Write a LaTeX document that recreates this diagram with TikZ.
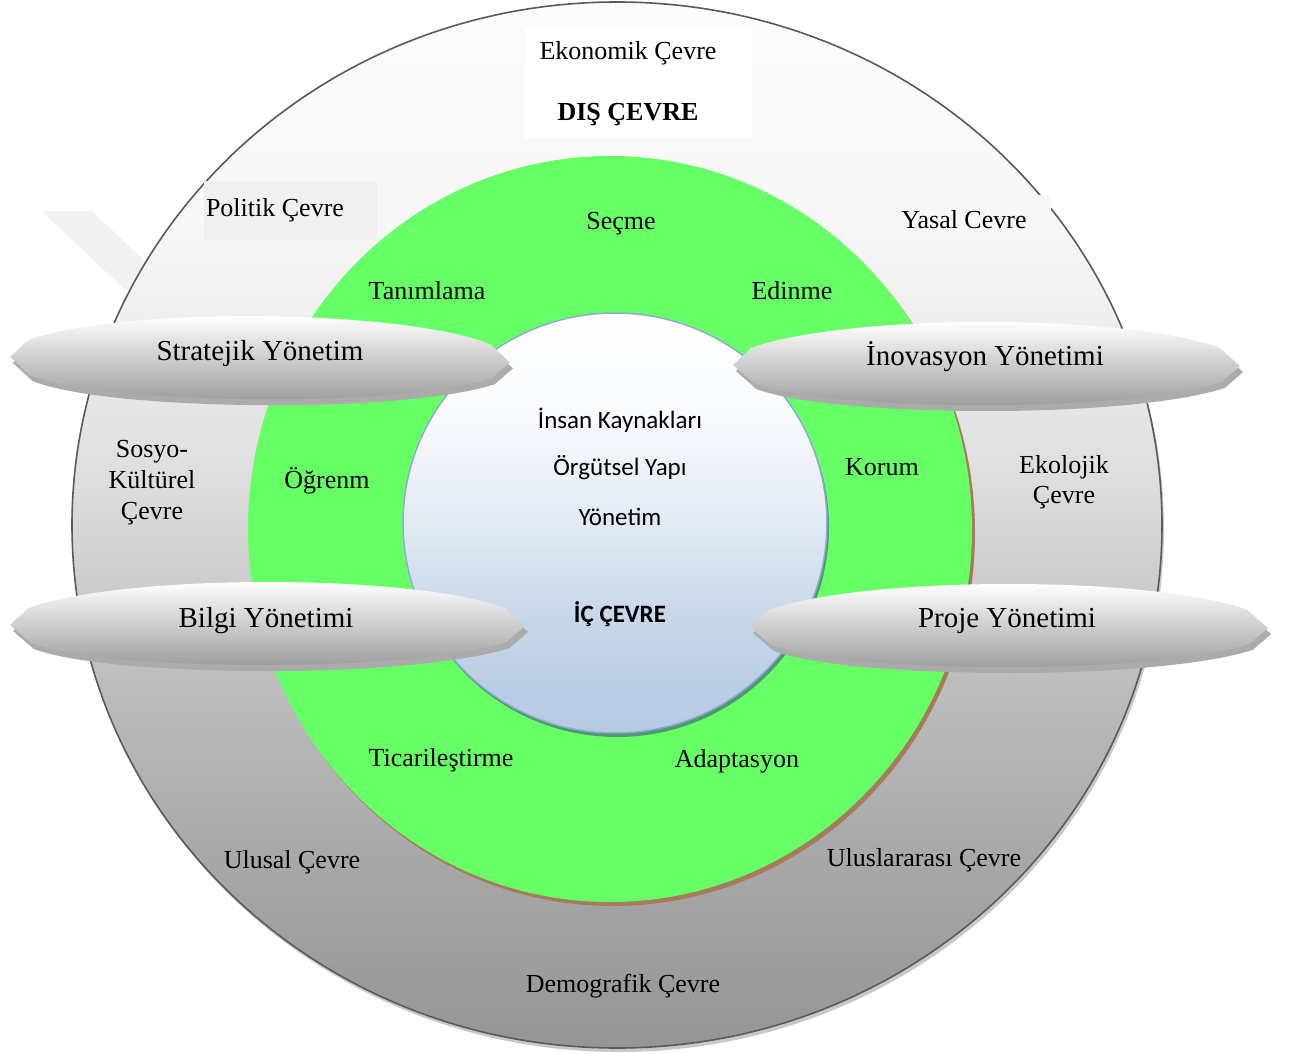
\documentclass[tikz,border=0pt]{standalone}
\usepackage{fontspec}
\setmainfont{Liberation Serif}
\newfontfamily\calibri{Carlito}
\definecolor{ringline}{HTML}{5A5A5A}
\definecolor{rA}{HTML}{FCFCFC}
\definecolor{rB}{HTML}{F7F7F7}
\definecolor{rC}{HTML}{F1F1F1}
\definecolor{rD}{HTML}{DEDEDE}
\definecolor{rE}{HTML}{BDBDBD}
\definecolor{rF}{HTML}{A8A8A8}
\definecolor{rG}{HTML}{959595}
\definecolor{iA}{HTML}{FFFFFF}
\definecolor{iB}{HTML}{F8FAFD}
\definecolor{iC}{HTML}{E4EBF4}
\definecolor{iD}{HTML}{C9D8EA}
\definecolor{iE}{HTML}{B9CCE4}
\definecolor{iF}{HTML}{B8CBE3}
\pgfdeclareverticalshading{ringshade}{100bp}{color(0bp)=(rG); color(25bp)=(rG); color(34bp)=(rF); color(42.6bp)=(rE); color(52.2bp)=(rD); color(60.8bp)=(rC); color(64.6bp)=(rB); color(75bp)=(rA); color(100bp)=(rA)}
\pgfdeclareverticalshading{innershade}{100bp}{color(0bp)=(iF); color(25bp)=(iF); color(28.9bp)=(iE); color(39.4bp)=(iD); color(51bp)=(iC); color(62.5bp)=(iB); color(75bp)=(iA); color(100bp)=(iA)}
\definecolor{ringshadow}{HTML}{C8C8C8}
\definecolor{greenfill}{HTML}{66FF66}
\definecolor{greenshadow}{HTML}{A57B5B}
\definecolor{innerline}{HTML}{8EAAD6}
\definecolor{innershadow}{HTML}{4E9A6E}
\definecolor{wmark}{HTML}{F1F1F1}
\definecolor{bantop}{HTML}{FFFFFF}
\definecolor{banmid}{HTML}{D8D8D8}
\definecolor{banbot}{HTML}{9E9E9E}
\definecolor{banshadow}{HTML}{ABABAB}
\begin{document}
\begin{tikzpicture}[x=1pt,y=-1pt,
  lbl/.style={font=\fontsize{26}{30}\selectfont, inner sep=0pt, align=center, yshift=-3pt},
  inlbl/.style={font=\calibri\fontsize{25}{30}\selectfont, inner sep=0pt, yshift=-2pt},
  banlbl/.style={font=\fontsize{29}{34}\selectfont, inner sep=0pt, yshift=-3pt},
  banner/.pic={
    \fill[banshadow] (3,6) -- (21,-11) .. controls (63,-27) and (153,-37) .. (253,-37) .. controls (353,-37) and (443,-27) .. (483,-11) -- (503,7) -- (485,23) .. controls (443,37) and (353,46) .. (253,46) .. controls (153,46) and (63,39) .. (23,24) -- cycle;
    \shade[top color=bantop, middle color=banmid, bottom color=banbot] (0,0) -- (18,-17) .. controls (60,-33) and (150,-43) .. (250,-43) .. controls (350,-43) and (440,-33) .. (480,-17) -- (500,1) -- (482,17) .. controls (440,31) and (350,40) .. (250,40) .. controls (150,40) and (60,33) .. (20,18) -- cycle;
  }]
\useasboundingbox (0,0) rectangle (1294,1054);
\fill[white] (0,0) rectangle (1294,1054);
% watermark
\fill[wmark] (42,211) -- (92,211) -- (175,290) -- (125,290) -- cycle;
% outer ring
\fill[ringshadow] (619,529) ellipse [x radius=545pt, y radius=523pt];
\shade[shading=ringshade] (617,525) ellipse [x radius=545pt, y radius=523pt];
\draw[ringline, line width=1.6pt] (617,525) ellipse [x radius=545pt, y radius=523pt];
% text boxes in outer ring
\fill[white] (525,28) rectangle (752,138);
\fill[black!6] (204,181) rectangle (377,240);
\fill[rB] (899,195) rectangle (1051,240);
% green ring
\fill[greenshadow] (613,533) ellipse [x radius=362pt, y radius=373pt];
\fill[greenfill] (610,529) ellipse [x radius=362pt, y radius=373pt];
% inner circle
\fill[innershadow] (617,527) ellipse [x radius=212pt, y radius=210pt];
\shade[shading=innershade] (615,523) ellipse [x radius=212pt, y radius=210pt];
\draw[innerline, line width=1.5pt] (615,523) ellipse [x radius=212pt, y radius=210pt];
% outer labels
\node[lbl] (eko) at (628,50) {Ekonomik Çevre};
\node[lbl, font=\bfseries\fontsize{26}{30}\selectfont] (dis) at (628,112) {DIŞ ÇEVRE};
\node[lbl] (pol) at (275,207) {Politik Çevre};
\node[lbl] (yas) at (964,217) {Yasal Cevre};
\node[lbl, font=\fontsize{26}{31}\selectfont] (sos) at (152,480) {Sosyo-\\Kültürel\\Çevre};
\node[lbl, font=\fontsize{26}{30}\selectfont] (ekol) at (1064,479) {Ekolojik\\Çevre};
\node[lbl] (ulu) at (292,859) {Ulusal Çevre};
\node[lbl] (ulus) at (924,857) {Uluslararası Çevre};
\node[lbl] (dem) at (623,983) {Demografik Çevre};
% green ring labels
\node[lbl] (sec) at (621,221) {Seçme};
\node[lbl] (tan) at (427,288) {Tanımlama};
\node[lbl] (edi) at (792,288) {Edinme};
\node[lbl] (ogr) at (327,478) {Öğrenm};
\node[lbl] (kor) at (882,464) {Korum};
\node[lbl] (tic) at (441,757) {Ticarileştirme};
\node[lbl] (ada) at (737,758) {Adaptasyon};
% inner labels
\node[inlbl] (ik) at (620,418) {İnsan Kaynakları};
\node[inlbl] (oy) at (620,466) {Örgütsel Yapı};
\node[inlbl] (yon) at (620,515) {Yönetim};
\node[inlbl, font=\calibri\bfseries\fontsize{25}{30}\selectfont] (ic) at (620,612) {İÇ ÇEVRE};
% banners
\pic[rotate=-0.5] at (10,357) {banner};
\pic[xscale=1.014] at (733,365) {banner};
\pic[xscale=1.03] at (10,625) {banner};
\pic[xscale=1.036] at (750,627) {banner};
\node[banlbl] (str) at (260,351) {Stratejik Yönetim};
\node[banlbl] (ino) at (985,354) {İnovasyon Yönetimi};
\node[banlbl] (bil) at (266,618) {Bilgi Yönetimi};
\node[banlbl] (pro) at (1007,618) {Proje Yönetimi};
\end{tikzpicture}
\end{document}
